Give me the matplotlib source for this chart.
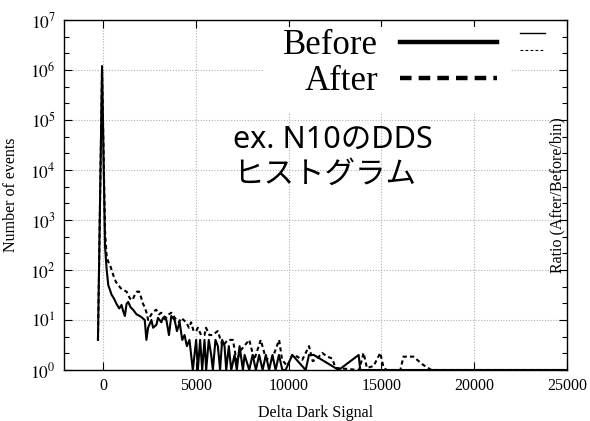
import matplotlib
matplotlib.use('Agg')
import matplotlib.pyplot as plt
from matplotlib.lines import Line2D
from matplotlib.patches import Rectangle
from matplotlib.ticker import FixedLocator, FuncFormatter
import numpy as np

plt.rcParams['font.family'] = ['Liberation Serif', 'DejaVu Serif']
plt.rcParams['mathtext.fontset'] = 'stix'

# histogram of delta dark signal
before_x = [-270, -50, 110, 200, 285, 375, 465, 590, 730, 875, 1000, 1090, 1180, 1270,
            1360, 1485, 1625, 1805, 1985, 2125, 2250, 2340, 2430, 2610, 2700, 2880,
            2965, 3145, 3235, 3415, 3555, 3680, 3860, 3985, 4130, 4270, 4395, 4520,
            4660, 4840, 5020, 5110, 5235, 5345, 5470, 5560, 5700, 5830, 5920, 6060,
            6190, 6310, 6420, 6550, 6640, 6780, 6910, 7090, 7210, 7360, 7540, 7630,
            7880, 8060, 8240, 8415, 8600, 8775, 8950, 9130, 9300, 9480, 9665, 9840,
            10200, 10920, 11100, 11360, 12700, 13775, 13860, 25000]
before_n = [4, 1.2e6, 300, 100, 50, 40, 32, 27, 21, 17, 20, 15, 12, 21,
            23, 18, 16, 13, 12, 11, 10, 4, 7, 10, 7, 8,
            11, 9, 11, 10, 5, 12, 10, 6, 9, 4, 5, 3,
            4, 1, 4, 1, 4, 1, 4, 1, 4, 2, 1, 4,
            3, 1, 4, 3, 1, 3, 1, 2, 1, 3, 1, 2,
            1, 2, 1, 2, 1, 2, 1, 2, 1, 2, 1, 1,
            2, 1, 2, 2, 1, 2, 1, 1]

after_x = [-270, -50, 110, 200, 285, 410, 555, 695, 820, 965, 1090, 1270, 1450, 1590,
           1715, 1840, 1945, 2070, 2160, 2250, 2375, 2430, 2610, 2735, 2870, 3020,
           3140, 3270, 3410, 3555, 3680, 3805, 3950, 4090, 4220, 4340, 4485, 4630,
           4750, 4880, 5020, 5110, 5285, 5470, 5550, 5735, 5900, 6180, 6450, 6720,
           7000, 7200, 7430, 7880, 8150, 8500, 8775, 9100, 9490, 9650, 9930, 10200,
           10470, 10740, 11100, 11300, 11540, 11810, 12080, 12350, 12530, 13800,
           14040, 14220, 14580, 14940, 15120, 15300, 16020, 16190, 16450, 16720,
           17260, 17700, 25000]
after_n = [4, 1.0e6, 600, 185, 146, 116, 79, 58, 50, 43, 40, 37, 27, 25,
           32, 37, 37, 27, 21, 18, 13, 10, 13, 15, 16, 13,
           14, 12, 11, 13, 14, 12, 10, 9, 11, 10, 9, 7,
           9, 6, 6, 7, 5, 5, 7, 5, 5, 6, 3, 4,
           4, 1.5, 2.5, 4, 1.6, 4, 1.7, 1.6, 4, 1.6, 1.2, 2,
           1.85, 1.6, 3, 1.5, 1.7, 2.2, 1.85, 1.7, 1.1, 1,
           2.2, 1.1, 1.2, 2.2, 1.1, 1, 1, 1.85, 1.85, 1.85,
           1.26, 1, 1]

x_ticks = [0, 5000, 10000, 15000, 20000, 25000]
y_ticks = [1e0, 1e1, 1e2, 1e3, 1e4, 1e5, 1e6, 1e7]

fig = plt.figure(figsize=(5.9, 4.21), dpi=100)
ax = fig.add_axes([64/590, 1-370/421, 503/590, 350/421])

ax.plot(before_x, before_n, color='black', lw=1.5, zorder=2)
ax.plot(after_x, after_n, color='black', lw=1.5, dashes=(2, 1.5), zorder=2)

ax.set_yscale('log')
ax.set_xlim(-2100, 25000)
ax.set_ylim(1, 1e7)

ax.xaxis.set_major_locator(FixedLocator(x_ticks))
ax.yaxis.set_major_locator(FixedLocator(y_ticks))
minor = [10**(k + f) for k in range(7) for f in (1/3, 2/3)]
ax.yaxis.set_minor_locator(FixedLocator(minor))
ax.yaxis.set_major_formatter(FuncFormatter(lambda v, p: r'$10^{%d}$' % round(np.log10(v))))
ax.yaxis.set_minor_formatter(FuncFormatter(lambda v, p: ''))

ax.tick_params(which='both', direction='in', top=True, right=True, width=0.8)
ax.tick_params(which='major', length=6)
ax.tick_params(which='minor', length=3.5)
ax.tick_params(axis='x', labelsize=11.5, pad=6)
ax.tick_params(axis='y', labelsize=12.5, pad=6)
for s in ax.spines.values():
    s.set_linewidth(1.0)

ax.set_axisbelow(True)
ax.grid(True, which='major', color='#b0b0b0', linestyle=(0, (1, 1.5)), lw=0.8)

ax.set_xlabel('Delta Dark Signal', fontsize=11.5, labelpad=8)
ax.set_ylabel('Number of events', fontsize=11.5, labelpad=8)
ax.text(0.98, 0.5, 'Ratio (After/Before/bin)', transform=ax.transAxes,
        rotation=90, ha='center', va='center', fontsize=11.5)

# white patch where the key sits
ax.add_patch(Rectangle((0.396, 0.737), 0.491, 0.243, transform=ax.transAxes,
                       facecolor='white', edgecolor='none', zorder=1))

handles = [Line2D([], [], color='black', lw=3.2),
           Line2D([], [], color='black', lw=3.2, dashes=(2.6, 1.6))]
leg = ax.legend(handles, ['Before', 'After'], markerfirst=False, frameon=False,
                fontsize=25, handlelength=2.8, handletextpad=0.63, labelspacing=0.1,
                borderpad=0, borderaxespad=0, loc='upper right',
                bbox_to_anchor=(497/590, 1-29/421), bbox_transform=fig.transFigure)

# small second key at the right edge
ax.add_line(Line2D([0.907, 0.956], [0.963, 0.963], transform=ax.transAxes,
                   color='black', lw=1.0))
ax.add_line(Line2D([0.907, 0.956], [0.914, 0.914], transform=ax.transAxes,
                   color='black', lw=0.8, dashes=(2.5, 2)))

fig.text(233/590, 1-125/421, 'ex. N10のDDS\nヒストグラム', fontsize=22,
         family=['Noto Sans', 'Noto Sans CJK JP', 'DejaVu Sans'], ha='left', va='top',
         linespacing=1.2)

fig.savefig('out.png', dpi=100)
plt.close(fig)
